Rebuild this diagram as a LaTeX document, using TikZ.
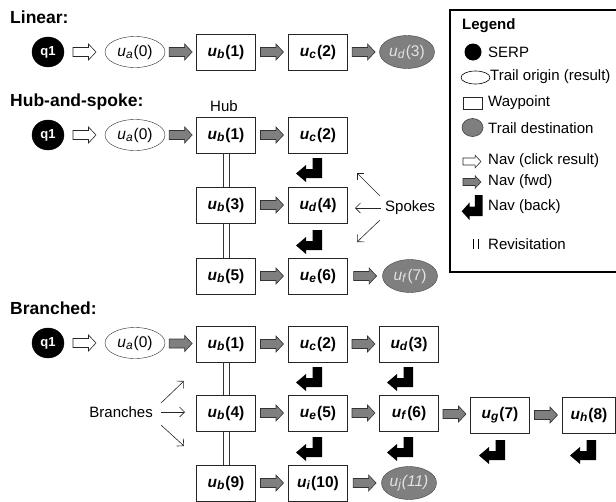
\documentclass[tikz,border=0pt]{standalone}
\usepackage{fontspec}
\setmainfont{Liberation Sans}
\usetikzlibrary{calc,shapes.geometric,arrows.meta}
\definecolor{tgray}{HTML}{7F7F7F}
\definecolor{tlight}{HTML}{E4E4E4}
\newcommand{\wlab}[2]{\textbf{\textit{u}\raisebox{-0.3ex}{\fontsize{12}{12}\selectfont\textbf{\textit{#1}}}\kern1pt(#2)}}
\newcommand{\olab}[2]{\textit{u}\raisebox{-0.3ex}{\fontsize{12}{12}\selectfont\textit{#1}}\kern1pt(#2)}
\newcommand{\ilab}[2]{\textit{u\raisebox{-0.3ex}{\fontsize{12}{12}\selectfont #1}\kern1pt(#2)}}
\tikzset{
  serp/.style={ellipse, fill=black, draw=black, minimum width=32pt, minimum height=30pt, inner sep=0pt, text=white, font=\fontsize{13}{13}\selectfont\bfseries},
  origin/.style={ellipse, draw=black!85, fill=white, minimum width=60pt, minimum height=31pt, inner sep=0pt, font=\fontsize{15.5}{15.5}\selectfont},
  waypoint/.style={rectangle, draw=black!85, fill=white, line width=0.7pt, minimum width=59pt, minimum height=36pt, inner sep=0pt, font=\fontsize{15.5}{15.5}\selectfont},
  dest/.style={ellipse, draw=black!75, fill=tgray, minimum width=55pt, minimum height=33pt, inner sep=0pt, text=tlight, font=\fontsize{15.5}{15.5}\selectfont},
  title/.style={anchor=west, inner sep=0pt, font=\fontsize{17.5}{17.5}\selectfont\bfseries},
  lbl/.style={inner sep=0pt, font=\fontsize{15}{15}\selectfont},
  leglbl/.style={anchor=west, inner sep=0pt, font=\fontsize{15}{15}\selectfont},
  revisit/.style={draw=black!80, line width=0.7pt},
  pointer/.style={draw=black!85, line width=0.6pt, -{Straight Barb[length=5pt,width=10pt]}},
  blockarr/.pic={\path[pic actions] (-11.5,-4.5) -- (4,-4.5) -- (4,-8) -- (11.5,0) -- (4,8) -- (4,4.5) -- (-11.5,4.5) -- cycle;},
  backarr/.pic={\fill[black] (0,0) -- (0,20) -- (-16,20) -- (-16,24) -- (-26,15.5) -- (-16,7) -- (-16,11) -- (-9.5,11) -- (-9.5,0) -- cycle;},
  fwd/.style={draw=black!80, fill=tgray, line width=0.6pt},
  click/.style={draw=black!85, fill=white, line width=0.6pt}
}
\begin{document}
\begin{tikzpicture}[x=1pt,y=-1pt]
\useasboundingbox (0,0) rectangle (616,501);

% ---------------- Linear ----------------
\node[title] (tlin) at (10,17) {Linear:};
\node[serp] (l0) at (48,52) {q1};
\node[origin] (la) at (135,52) {\olab{a}{0}};
\node[waypoint] (lb) at (226,52) {\wlab{b}{1}};
\node[waypoint] (lc) at (318,52) {\wlab{c}{2}};
\node[dest] (ld) at (407,52) {\olab{d}{3}};
\pic[click] (lk1) at ($(l0.east)!0.5!(la.west)$) {blockarr};
\pic[fwd] (lf1) at ($(la.east)!0.5!(lb.west)$) {blockarr};
\pic[fwd] (lf2) at ($(lb.east)!0.5!(lc.west)$) {blockarr};
\pic[fwd] (lf3) at ($(lc.east)!0.5!(ld.west)$) {blockarr};

% ---------------- Hub-and-spoke ----------------
\node[title] (thub) at (10,102) {Hub-and-spoke:};
\node[lbl] (hublbl) at (224,106) {Hub};
\node[serp] (h0) at (48,135) {q1};
\node[origin] (ha) at (135,135) {\olab{a}{0}};
\node[waypoint] (hb1) at (226,135) {\wlab{b}{1}};
\node[waypoint] (hc2) at (318,135) {\wlab{c}{2}};
\node[waypoint] (hb3) at (226,205) {\wlab{b}{3}};
\node[waypoint] (hd4) at (318,205) {\wlab{d}{4}};
\node[waypoint] (hb5) at (226,276) {\wlab{b}{5}};
\node[waypoint] (he6) at (318,276) {\wlab{e}{6}};
\node[dest] (hf7) at (410,276) {\olab{f}{7}};
\pic[click] (hk1) at ($(h0.east)!0.5!(ha.west)$) {blockarr};
\pic[fwd] (hf1) at ($(ha.east)!0.5!(hb1.west)$) {blockarr};
\pic[fwd] (hf2) at ($(hb1.east)!0.5!(hc2.west)$) {blockarr};
\pic[fwd] (hf3) at ($(hb3.east)!0.5!(hd4.west)$) {blockarr};
\pic[fwd] (hf4) at ($(hb5.east)!0.5!(he6.west)$) {blockarr};
\pic[fwd] (hf5) at ($(he6.east)!0.5!(hf7.west)$) {blockarr};
\pic (hbk1) at (322,158) {backarr};
\pic (hbk2) at (322,230) {backarr};
\draw[revisit] ($(hb1.south)+(-3,0)$) -- ($(hb3.north)+(-3,0)$) ($(hb1.south)+(3,0)$) -- ($(hb3.north)+(3,0)$);
\draw[revisit] ($(hb3.south)+(-3,0)$) -- ($(hb5.north)+(-3,0)$) ($(hb3.south)+(3,0)$) -- ($(hb5.north)+(3,0)$);
\node[lbl, anchor=west] (spokes) at (385,208) {Spokes};
\coordinate (sp1) at (357,173);
\coordinate (sp2) at (355,208);
\coordinate (sp3) at (357,242);
\draw[pointer] ($(spokes.west)+(-5,-12)$) -- (sp1);
\draw[pointer] ($(spokes.west)+(-4,0)$) -- (sp2);
\draw[pointer] ($(spokes.west)+(-5,12)$) -- (sp3);

% ---------------- Branched ----------------
\node[title] (tbr) at (10,308) {Branched:};
\node[serp] (b0) at (48,343) {q1};
\node[origin] (ba) at (135,343) {\olab{a}{0}};
\node[waypoint] (bb1) at (226,344) {\wlab{b}{1}};
\node[waypoint] (bc2) at (318,344) {\wlab{c}{2}};
\node[waypoint] (bd3) at (409,344) {\wlab{d}{3}};
\node[waypoint] (bb4) at (226,413) {\wlab{b}{4}};
\node[waypoint] (be5) at (318,413) {\wlab{e}{5}};
\node[waypoint] (bf6) at (409,413) {\wlab{f}{6}};
\node[waypoint] (bg7) at (500,415) {\wlab{g}{7}};
\node[waypoint, minimum width=53pt] (bh8) at (589,415) {\wlab{h}{8}};
\node[waypoint] (bb9) at (226,483) {\wlab{b}{9}};
\node[waypoint] (bi10) at (318,483) {\wlab{i}{10}};
\node[dest] (bj11) at (409,483) {\ilab{j}{11}};
\pic[click] (bk1) at ($(b0.east)!0.5!(ba.west)$) {blockarr};
\pic[fwd] (bfa) at ($(ba.east)!0.5!(bb1.west)$) {blockarr};
\pic[fwd] (bfb) at ($(bb1.east)!0.5!(bc2.west)$) {blockarr};
\pic[fwd] (bfc) at ($(bc2.east)!0.5!(bd3.west)$) {blockarr};
\pic[fwd] (bfd) at ($(bb4.east)!0.5!(be5.west)$) {blockarr};
\pic[fwd] (bfe) at ($(be5.east)!0.5!(bf6.west)$) {blockarr};
\pic[fwd] (bff) at ($(bf6.east)!0.5!(bg7.west)$) {blockarr};
\pic[fwd] (bfg) at ($(bg7.east)!0.5!(bh8.west)$) {blockarr};
\pic[fwd] (bfh) at ($(bb9.east)!0.5!(bi10.west)$) {blockarr};
\pic[fwd] (bfi) at ($(bi10.east)!0.5!(bj11.west)$) {blockarr};
\pic (bbk1) at (322,367) {backarr};
\pic (bbk2) at (413,367) {backarr};
\pic (bbk3) at (322,437) {backarr};
\pic (bbk4) at (413,437) {backarr};
\pic (bbk5) at (505,440) {backarr};
\pic (bbk6) at (596,440) {backarr};
\draw[revisit] ($(bb1.south)+(-3,0)$) -- ($(bb4.north)+(-3,0)$) ($(bb1.south)+(3,0)$) -- ($(bb4.north)+(3,0)$);
\draw[revisit] ($(bb4.south)+(-3,0)$) -- ($(bb9.north)+(-3,0)$) ($(bb4.south)+(3,0)$) -- ($(bb9.north)+(3,0)$);
\node[lbl, anchor=east] (branches) at (153,412) {Branches};
\coordinate (br1) at (184,381);
\coordinate (br2) at (185,412);
\coordinate (br3) at (184,446);
\draw[pointer] ($(branches.east)+(8,-9)$) -- (br1);
\draw[pointer] ($(branches.east)+(8,0)$) -- (br2);
\draw[pointer] ($(branches.east)+(8,13)$) -- (br3);

% ---------------- Legend ----------------
\draw[line width=1.6pt] (450,10) rectangle (616.5,272);
\node[anchor=west, inner sep=0pt, font=\fontsize{15}{15}\selectfont\bfseries] (legt) at (462,26) {Legend};
\fill (473,52) circle[radius=8.5];
\node[leglbl] (lg1) at (488,52) {SERP};
\draw[line width=0.6pt] (475.5,77.5) ellipse[x radius=14.5, y radius=6.5];
\node[leglbl] (lg2) at (490,77) {Trail origin (result)};
\draw[line width=0.6pt, draw=black!85] (463,97) rectangle (482,109);
\node[leglbl] (lg3) at (488,103) {Waypoint};
\draw[line width=0.6pt, draw=black!75, fill=tgray] (472.5,127.5) ellipse[x radius=10.5, y radius=9];
\node[leglbl] (lg4) at (488,128) {Trail destination};
\pic[click, scale=0.78] (lgk) at (472,161.5) {blockarr};
\node[leglbl] (lg5) at (488,161) {Nav (click result)};
\pic[fwd, scale=0.78] (lgf) at (472,182) {blockarr};
\node[leglbl] (lg6) at (488,182) {Nav (fwd)};
\pic[xscale=0.8, yscale=1.05] (lgb) at (482.5,195) {backarr};
\node[leglbl] (lg7) at (488,207) {Nav (back)};
\draw[line width=0.7pt] (473,239) -- (473,249) (478,239) -- (478,249);
\node[leglbl] (lg8) at (488,244) {Revisitation};
\end{tikzpicture}
\end{document}
